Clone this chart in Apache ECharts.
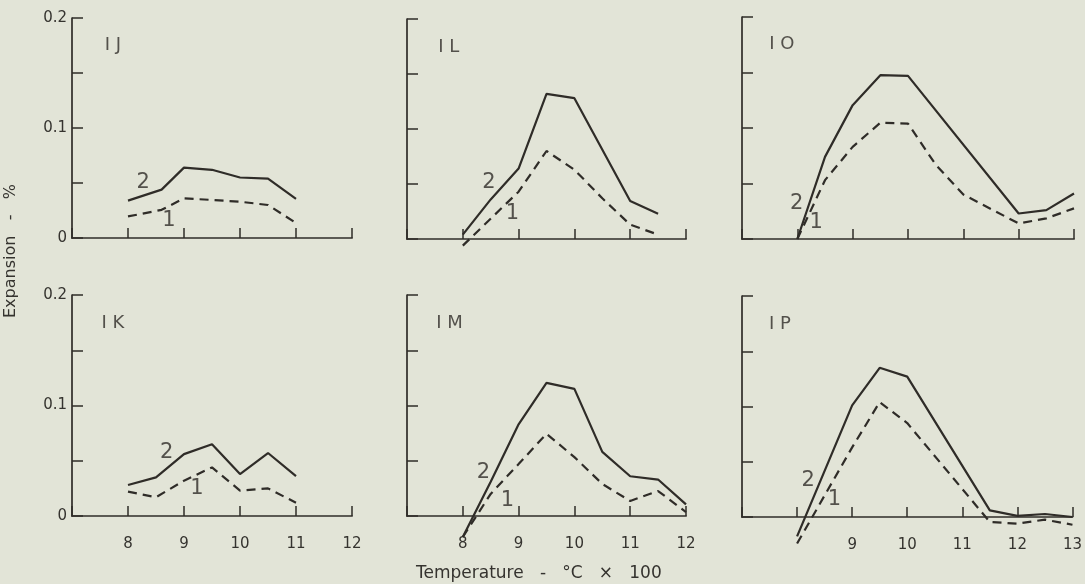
<!DOCTYPE html>
<html>
<head>
<meta charset="utf-8">
<script src="https://cdn.jsdelivr.net/npm/echarts@6/dist/echarts.min.js"></script>
<style>
  html, body { margin: 0; padding: 0; background: #e2e4d7; }
  #chart { width: 1085px; height: 584px; }
</style>
</head>
<body>
<div id="chart"></div>
<script>
// ---- Data (temperature in °C x 100, expansion in %) ----
const panelNames = ['I J', 'I K', 'I L', 'I M', 'I O', 'I P'];

const ijX = [8, 8.6, 9, 9.5, 10, 10.5, 11];
const ij2 = [0.034, 0.044, 0.064, 0.062, 0.055, 0.054, 0.0355];
const ij1 = [0.0196, 0.0256, 0.036, 0.0346, 0.033, 0.030, 0.0136];

const ikX = [8, 8.5, 9, 9.5, 10, 10.5, 11];
const ik2 = [0.028, 0.035, 0.056, 0.065, 0.038, 0.057, 0.036];
const ik1 = [0.022, 0.017, 0.032, 0.044, 0.023, 0.025, 0.012];

const il2X = [8, 8.5, 9, 9.5, 10, 11, 11.5];
const il2 = [0.004, 0.036, 0.064, 0.132, 0.128, 0.0345, 0.023];
const il1X = [8, 9, 9.5, 10, 10.5, 11, 11.5];
const il1 = [-0.006, 0.043, 0.080, 0.063, 0.037, 0.013, 0.004];

const imX = [8, 8.5, 9, 9.5, 10, 10.5, 11, 11.5, 12];
const im2 = [-0.019, 0.031, 0.083, 0.1205, 0.115, 0.058, 0.036, 0.033, 0.0105];
const im1 = [-0.019, 0.020, 0.047, 0.0744, 0.0533, 0.029, 0.0136, 0.0226, 0.0036];

const io2X = [8, 8.5, 9, 9.5, 10, 12, 12.5, 13];
const io2 = [0, 0.074, 0.1206, 0.1476, 0.147, 0.023, 0.026, 0.041];
const io1X = [8, 8.5, 9, 9.5, 10, 10.5, 11, 12, 12.5, 13];
const io1 = [0, 0.053, 0.083, 0.1047, 0.104, 0.067, 0.040, 0.014, 0.0186, 0.0276];

const ipX = [8, 9, 9.5, 10, 11.5, 12, 12.5, 13];
const ip2 = [-0.0175, 0.101, 0.135, 0.127, 0.006, 0.001, 0.0027, 0.0];
const ip1 = [-0.024, 0.063, 0.104, 0.085, -0.0045, -0.006, -0.0024, -0.007];

const xTitle = 'Temperature   -   °C   ×   100';
const yTitle = 'Expansion   -   %';

// ---- Layout / style ----
const INK = '#2f2c28';
const TXT = '#35332f';
const FONT = 'DejaVu Sans';

const panels = [
  { name: panelNames[0], grid: { left: 72, top: 18, width: 280, height: 220 }, xmax: 12, yLabels: true,  xLabels: false,
    s2: [ijX, ij2], s1: [ijX, ij1], l2: [8.27, 0.05], l1: [8.73, 0.016], t: [7.73, 0.175] },
  { name: panelNames[1], grid: { left: 72, top: 295, width: 280, height: 221 }, xmax: 12, yLabels: true,  xLabels: true, hide8: false,
    s2: [ikX, ik2], s1: [ikX, ik1], l2: [8.69, 0.057], l1: [9.23, 0.025], t: [7.73, 0.174] },
  { name: panelNames[2], grid: { left: 407, top: 19, width: 279, height: 220 }, xmax: 12, yLabels: false, xLabels: false,
    s2: [il2X, il2], s1: [il1X, il1], l2: [8.47, 0.051], l1: [8.89, 0.023], t: [7.75, 0.174] },
  { name: panelNames[3], grid: { left: 407, top: 295, width: 279, height: 221 }, xmax: 12, yLabels: false, xLabels: true, hide8: false,
    s2: [imX, im2], s1: [imX, im1], l2: [8.37, 0.039], l1: [8.80, 0.014], t: [7.76, 0.174] },
  { name: panelNames[4], grid: { left: 742, top: 17, width: 332, height: 222 }, xmax: 13, yLabels: false, xLabels: false,
    s2: [io2X, io2], s1: [io1X, io1], l2: [7.99, 0.032], l1: [8.34, 0.015], t: [7.72, 0.175] },
  { name: panelNames[5], grid: { left: 742, top: 296, width: 332, height: 221 }, xmax: 13, yLabels: false, xLabels: true, hide8: true,
    s2: [ipX, ip2], s1: [ipX, ip1], l2: [8.2, 0.033], l1: [8.68, 0.016], t: [7.69, 0.1745] }
];

const zip = (xs, ys) => xs.map((x, i) => [x, ys[i]]);
const near = (a, b) => Math.abs(a - b) < 1e-9;

const grid = [], xAxis = [], yAxis = [], series = [];
panels.forEach((p, i) => {
  grid.push(Object.assign({}, p.grid));
  xAxis.push({
    type: 'value', gridIndex: i, min: 7, max: p.xmax, interval: 1,
    splitLine: { show: false },
    axisLine: { onZero: false, lineStyle: { color: INK, width: 1.7 } },
    axisTick: { inside: true, length: 10, lineStyle: { color: INK, width: 1.5 } },
    axisLabel: {
      show: p.xLabels, margin: 21, color: TXT, fontFamily: FONT, fontSize: 15,
      formatter: v => (v === 7 || (p.hide8 && v === 8)) ? '' : String(v)
    }
  });
  yAxis.push({
    type: 'value', gridIndex: i, min: 0, max: 0.2, interval: 0.05,
    splitLine: { show: false },
    axisLine: { show: true, lineStyle: { color: INK, width: 1.7 } },
    axisTick: { show: true, inside: true, length: 11, lineStyle: { color: INK, width: 1.5 } },
    axisLabel: {
      show: p.yLabels, margin: 5, color: TXT, fontFamily: FONT, fontSize: 15,
      formatter: v => near(v, 0) ? '0' : near(v, 0.1) ? '0.1' : near(v, 0.2) ? '0.2' : ''
    }
  });
  series.push({
    type: 'line', xAxisIndex: i, yAxisIndex: i, clip: false, silent: true,
    symbol: 'none', data: zip(p.s2[0], p.s2[1]),
    lineStyle: { color: INK, width: 2.2, type: 'solid' }
  });
  series.push({
    type: 'line', xAxisIndex: i, yAxisIndex: i, clip: false, silent: true,
    symbol: 'none', data: zip(p.s1[0], p.s1[1]),
    lineStyle: { color: INK, width: 2.2, type: [9, 6] }
  });
  series.push({
    type: 'scatter', xAxisIndex: i, yAxisIndex: i, clip: false, silent: true,
    symbolSize: 0,
    data: [
      { value: [p.l2[0], p.l2[1]], name: '2', label: { fontSize: 21 } },
      { value: [p.l1[0], p.l1[1]], name: '1', label: { fontSize: 21 } },
      { value: [p.t[0], p.t[1]], name: p.name, label: { fontSize: 18 } }
    ],
    label: {
      show: true, position: 'inside', color: INK, fontFamily: FONT,
      formatter: d => d.name
    }
  });
});

const chart = echarts.init(document.getElementById('chart'), null, { renderer: 'canvas' });
chart.setOption({
  backgroundColor: '#e2e4d7',
  animation: false,
  textStyle: { fontFamily: FONT },
  grid, xAxis, yAxis, series,
  graphic: [
    {
      type: 'text', left: 416, top: 565,
      style: { text: xTitle, fill: TXT, font: '17px "DejaVu Sans"' }
    },
    {
      type: 'text', rotation: Math.PI / 2, x: 11, y: 318,
      style: { text: yTitle, fill: TXT, font: '16px "DejaVu Sans"', textAlign: 'left', textVerticalAlign: 'middle' }
    }
  ]
});
</script>
</body>
</html>
